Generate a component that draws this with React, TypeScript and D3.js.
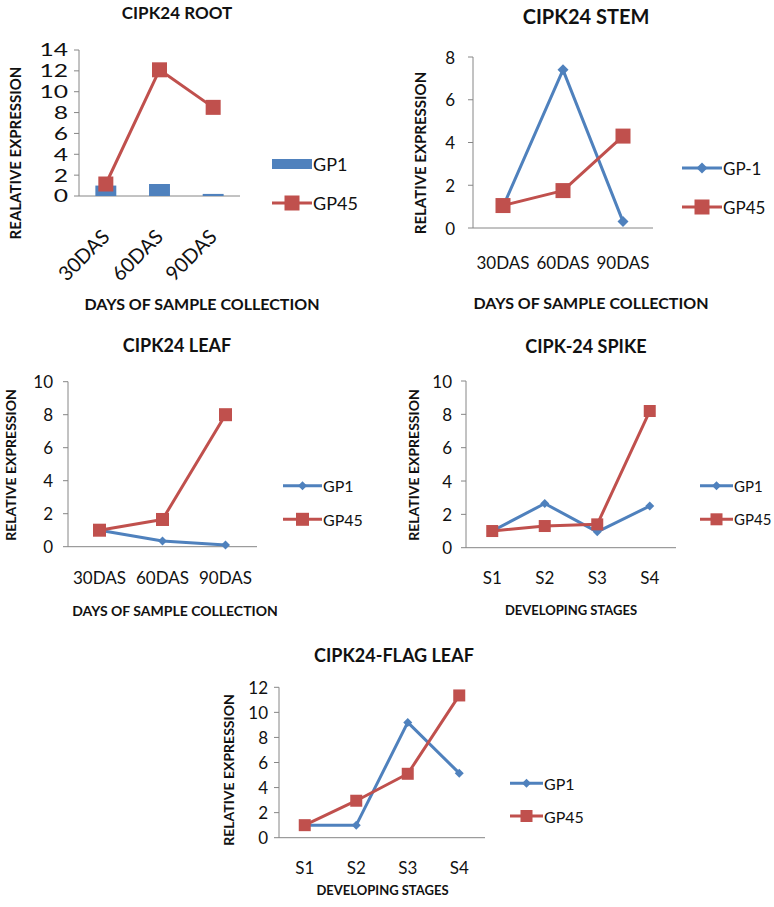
import React from "react";
import * as d3 from "d3";

// ---------- DATA ----------
const dasCategories = ["30DAS", "60DAS", "90DAS"];
const stageCategories = ["S1", "S2", "S3", "S4"];

const rootGP1 = [1.0, 1.15, 0.2];
const rootGP45 = [1.15, 12.1, 8.5];
const rootTicks = [0, 2, 4, 6, 8, 10, 12, 14];

const stemGP1 = [1.0, 7.4, 0.3];
const stemGP45 = [1.05, 1.75, 4.3];
const stemTicks = [0, 2, 4, 6, 8];

const leafGP1 = [1.0, 0.35, 0.1];
const leafGP45 = [1.0, 1.65, 8.0];
const leafTicks = [0, 2, 4, 6, 8, 10];

const spikeGP1 = [1.0, 2.65, 0.95, 2.5];
const spikeGP45 = [1.0, 1.3, 1.4, 8.2];
const spikeTicks = [0, 2, 4, 6, 8, 10];

const flagGP1 = [1.0, 1.0, 9.2, 5.15];
const flagGP45 = [1.0, 2.95, 5.1, 11.35];
const flagTicks = [0, 2, 4, 6, 8, 10, 12];

// ---------- STYLE ----------
const BLUE = "#4F81BD";
const RED = "#C0504D";
const AXIS = "#868686";
const FONT = "Lato, 'Open Sans', sans-serif";

type PanelCfg = {
  title: string;
  titleX: number;
  titleY: number;
  titleSize: number;
  yLabel: string;
  yLabelX: number;
  yLabelY: number;
  yLabelSize: number;
  xTitle: string;
  xTitleX: number;
  xTitleY: number;
  xTitleSize: number;
  x0: number;
  x1: number;
  y0: number;
  y1: number;
  ymax: number;
  ticks: number[];
  tickSize: number;
  tickPad: number;
  tickScaleX: number;
  catY: number;
  catSize: number;
  rotateCats: boolean;
  cats: string[];
  s1: number[];
  s2: number[];
  s1Name: string;
  s1Bars: boolean;
  legX0: number;
  legX1: number;
  legY1: number;
  legY2: number;
  legSize: number;
  sqSize: number;
  diaR: number;
};

const diamond = (r: number) => `M0,${-r}L${r},0L0,${r}L${-r},0Z`;

function Panel({ c }: { c: PanelCfg }) {
  const x = d3.scaleBand<string>().domain(c.cats).range([c.x0, c.x1]);
  const y = d3.scaleLinear().domain([0, c.ymax]).range([c.y0, c.y1]);
  const cx = (cat: string) => (x(cat) as number) + x.bandwidth() / 2;
  const line = d3
    .line<number>()
    .x((_, i) => cx(c.cats[i]))
    .y((d) => y(d));
  const barW = x.bandwidth() * 0.39;
  const legMid = (c.legX0 + c.legX1) / 2;
  return (
    <g fontFamily={FONT}>
      <text x={c.titleX} y={c.titleY} textAnchor="middle" dominantBaseline="central" fontWeight="bold" fontSize={c.titleSize} fill="#111">
        {c.title}
      </text>
      <text
        transform={`translate(${c.yLabelX},${c.yLabelY}) rotate(-90)`}
        textAnchor="middle"
        dominantBaseline="central"
        fontWeight="bold"
        fontSize={c.yLabelSize}
        fill="#111"
      >
        {c.yLabel}
      </text>
      <text x={c.xTitleX} y={c.xTitleY} textAnchor="middle" dominantBaseline="central" fontWeight="bold" fontSize={c.xTitleSize} fill="#111">
        {c.xTitle}
      </text>
      {/* axes */}
      <line x1={c.x0} x2={c.x0} y1={y(0)} y2={y(c.ymax)} stroke={AXIS} strokeWidth={1} />
      <line x1={c.x0} x2={c.x1} y1={y(0)} y2={y(0)} stroke={AXIS} strokeWidth={1} />
      {c.ticks.map((t) => (
        <g key={t}>
          <line x1={c.x0 - 5} x2={c.x0} y1={y(t)} y2={y(t)} stroke={AXIS} />
          <text
            transform={`translate(${c.x0 - c.tickPad},${y(t)}) scale(${c.tickScaleX},1)`}
            textAnchor="end"
            dominantBaseline="central"
            fontSize={c.tickSize}
            fill="#111"
          >
            {t}
          </text>
        </g>
      ))}
      {c.cats.map((cat) =>
        c.rotateCats ? (
          <text
            key={cat}
            transform={`translate(${cx(cat) + 5},${c.catY}) rotate(-45)`}
            textAnchor="end"
            fontSize={c.catSize}
            fill="#111"
          >
            {cat}
          </text>
        ) : (
          <text key={cat} x={cx(cat)} y={c.catY} textAnchor="middle" dominantBaseline="central" fontSize={c.catSize} fill="#111">
            {cat}
          </text>
        )
      )}
      {/* series 1 */}
      {c.s1Bars ? (
        c.s1.map((v, i) => (
          <rect key={i} x={cx(c.cats[i]) - barW / 2} y={y(v)} width={barW} height={y(0) - y(v)} fill={BLUE} />
        ))
      ) : (
        <g>
          <path d={line(c.s1) || ""} fill="none" stroke={BLUE} strokeWidth={3} strokeLinejoin="round" />
          {c.s1.map((v, i) => (
            <path key={i} d={diamond(c.diaR)} transform={`translate(${cx(c.cats[i])},${y(v)})`} fill={BLUE} />
          ))}
        </g>
      )}
      {/* series 2 */}
      <path d={line(c.s2) || ""} fill="none" stroke={RED} strokeWidth={3} strokeLinejoin="round" />
      {c.s2.map((v, i) => (
        <rect key={i} x={cx(c.cats[i]) - c.sqSize / 2} y={y(v) - c.sqSize / 2} width={c.sqSize} height={c.sqSize} fill={RED} />
      ))}
      {/* legend */}
      {c.s1Bars ? (
        <rect x={c.legX0} y={c.legY1 - 5} width={c.legX1 - c.legX0} height={10} fill={BLUE} />
      ) : (
        <g>
          <line x1={c.legX0} x2={c.legX1} y1={c.legY1} y2={c.legY1} stroke={BLUE} strokeWidth={3} />
          <path d={diamond(c.diaR)} transform={`translate(${legMid},${c.legY1})`} fill={BLUE} />
        </g>
      )}
      <text x={c.legX1 + 1} y={c.legY1} dominantBaseline="central" fontSize={c.legSize} fill="#111">
        {c.s1Name}
      </text>
      <line x1={c.legX0} x2={c.legX1} y1={c.legY2} y2={c.legY2} stroke={RED} strokeWidth={3} />
      <rect x={legMid - c.sqSize / 2} y={c.legY2 - c.sqSize / 2} width={c.sqSize} height={c.sqSize} fill={RED} />
      <text x={c.legX1 + 1} y={c.legY2} dominantBaseline="central" fontSize={c.legSize} fill="#111">
        GP45
      </text>
    </g>
  );
}

const panels: PanelCfg[] = [
  {
    title: "CIPK24 ROOT", titleX: 177, titleY: 12, titleSize: 17,
    yLabel: "REALATIVE EXPRESSION", yLabelX: 15, yLabelY: 153, yLabelSize: 15,
    xTitle: "DAYS OF SAMPLE COLLECTION", xTitleX: 202, xTitleY: 303, xTitleSize: 16,
    x0: 79, x1: 240, y0: 196, y1: 50, ymax: 14, ticks: rootTicks,
    tickSize: 17, tickPad: 11, tickScaleX: 1.45,
    catY: 238, catSize: 20, rotateCats: true, cats: dasCategories,
    s1: rootGP1, s2: rootGP45, s1Name: "GP1", s1Bars: true,
    legX0: 272, legX1: 312, legY1: 164, legY2: 203, legSize: 18, sqSize: 15, diaR: 5,
  },
  {
    title: "CIPK24 STEM", titleX: 586, titleY: 16, titleSize: 20,
    yLabel: "RELATIVE EXPRESSION", yLabelX: 420, yLabelY: 153, yLabelSize: 15,
    xTitle: "DAYS OF SAMPLE COLLECTION", xTitleX: 591, xTitleY: 302, xTitleSize: 16,
    x0: 473, x1: 653, y0: 228, y1: 57, ymax: 8, ticks: stemTicks,
    tickSize: 17, tickPad: 18, tickScaleX: 1,
    catY: 262, catSize: 17, rotateCats: false, cats: dasCategories,
    s1: stemGP1, s2: stemGP45, s1Name: "GP-1", s1Bars: false,
    legX0: 682, legX1: 722, legY1: 168, legY2: 207, legSize: 17, sqSize: 15, diaR: 5.5,
  },
  {
    title: "CIPK24 LEAF", titleX: 177, titleY: 345, titleSize: 18,
    yLabel: "RELATIVE EXPRESSION", yLabelX: 10, yLabelY: 465, yLabelSize: 14,
    xTitle: "DAYS OF SAMPLE COLLECTION", xTitleX: 175, xTitleY: 610, xTitleSize: 14,
    x0: 68, x1: 257, y0: 546.7, y1: 381.7, ymax: 10, ticks: leafTicks,
    tickSize: 17, tickPad: 15, tickScaleX: 1,
    catY: 577, catSize: 17, rotateCats: false, cats: dasCategories,
    s1: leafGP1, s2: leafGP45, s1Name: "GP1", s1Bars: false,
    legX0: 283, legX1: 322, legY1: 485.7, legY2: 519.3, legSize: 16, sqSize: 13, diaR: 4.5,
  },
  {
    title: "CIPK-24 SPIKE", titleX: 586, titleY: 346, titleSize: 18,
    yLabel: "RELATIVE EXPRESSION", yLabelX: 413, yLabelY: 465, yLabelSize: 14,
    xTitle: "DEVELOPING STAGES", xTitleX: 571, xTitleY: 610, xTitleSize: 13,
    x0: 466, x1: 676, y0: 547.7, y1: 381, ymax: 10, ticks: spikeTicks,
    tickSize: 17, tickPad: 14, tickScaleX: 1,
    catY: 577, catSize: 17, rotateCats: false, cats: stageCategories,
    s1: spikeGP1, s2: spikeGP45, s1Name: "GP1", s1Bars: false,
    legX0: 700, legX1: 733, legY1: 485.7, legY2: 519.3, legSize: 15, sqSize: 12, diaR: 4.5,
  },
  {
    title: "CIPK24-FLAG LEAF", titleX: 394, titleY: 655, titleSize: 18,
    yLabel: "RELATIVE EXPRESSION", yLabelX: 228, yLabelY: 770, yLabelSize: 14,
    xTitle: "DEVELOPING STAGES", xTitleX: 382.5, xTitleY: 890, xTitleSize: 13,
    x0: 279, x1: 485, y0: 837.7, y1: 687.3, ymax: 12, ticks: flagTicks,
    tickSize: 17, tickPad: 11, tickScaleX: 1,
    catY: 867, catSize: 17, rotateCats: false, cats: stageCategories,
    s1: flagGP1, s2: flagGP45, s1Name: "GP1", s1Bars: false,
    legX0: 510, legX1: 543, legY1: 783.3, legY2: 816, legSize: 16, sqSize: 12, diaR: 4.5,
  },
];

export default function App() {
  return (
    <svg
      width={774}
      height={907}
      viewBox="0 0 774 907"
      style={{ position: "absolute", left: 0, top: 0, background: "#fff" }}
    >
      <rect width={774} height={907} fill="#fff" />
      {panels.map((p) => (
        <Panel key={p.title} c={p} />
      ))}
    </svg>
  );
}
